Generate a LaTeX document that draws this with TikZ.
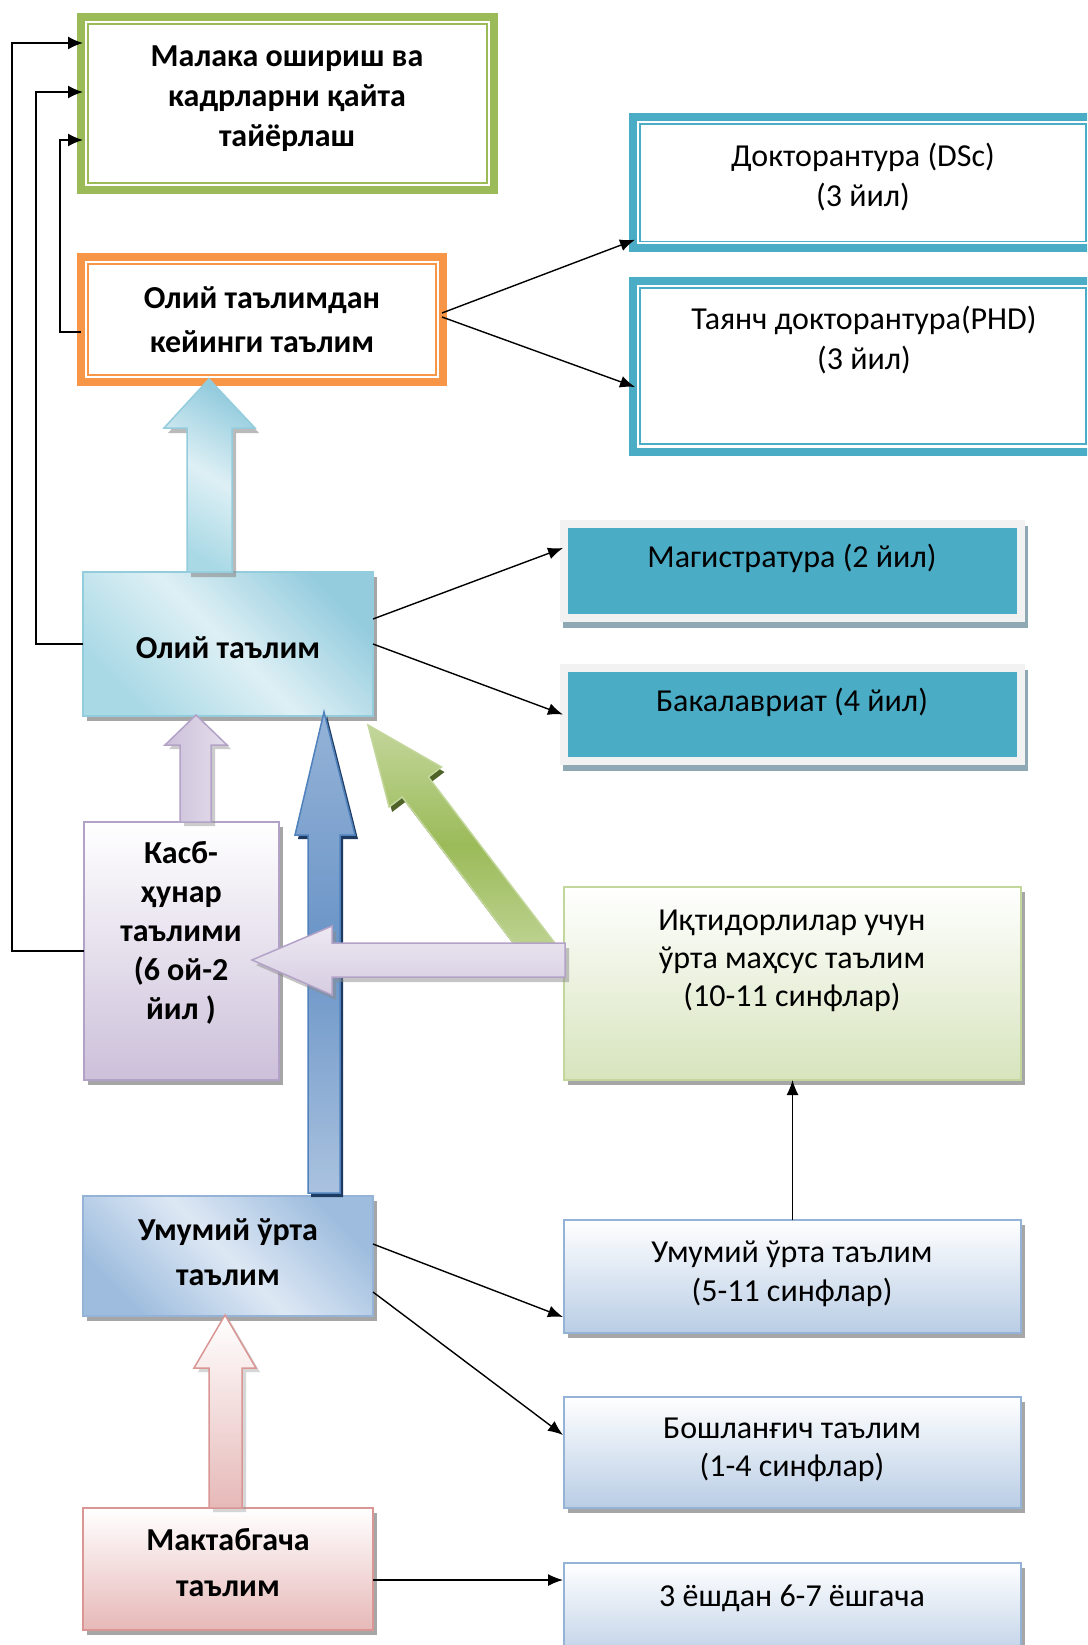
\documentclass[tikz,border=0pt]{standalone}
\usepackage{fontspec}
\setmainfont{Carlito}
\usetikzlibrary{arrows.meta,shadows,calc}
\definecolor{cgreen}{HTML}{9BBB59}
\definecolor{corange}{HTML}{F79646}
\definecolor{cteal}{HTML}{4BACC6}
\definecolor{cframe}{HTML}{F2F2F2}
\definecolor{ctealsh}{HTML}{8EA9B3}
\definecolor{cblueb}{HTML}{95B3D7}
\definecolor{cbluel}{HTML}{B9CDE5}
\definecolor{clilb}{HTML}{B3A2C7}
\definecolor{clil}{HTML}{CCC0DA}
\definecolor{clill}{HTML}{E5DFEC}
\definecolor{cpinkb}{HTML}{D99694}
\definecolor{cpink}{HTML}{E6B9B8}
\definecolor{cgreenb}{HTML}{C3D69B}
\definecolor{cgreenl}{HTML}{D7E4BD}
\definecolor{caqua}{HTML}{93CDDD}
\definecolor{caqual}{HTML}{DAEEF3}
\definecolor{cnavy}{HTML}{4F81BD}
\definecolor{cnavyd}{HTML}{1F3A60}
\definecolor{colive}{HTML}{4F6228}
\pgfdeclarehorizontalshading{aquash}{100bp}{rgb(0bp)=(.66,.85,.9); rgb(25bp)=(.66,.85,.9); rgb(50bp)=(.87,.94,.96); rgb(75bp)=(.58,.8,.87); rgb(100bp)=(.58,.8,.87)}
\pgfdeclarehorizontalshading{bluesh}{100bp}{rgb(0bp)=(.62,.74,.87); rgb(25bp)=(.62,.74,.87); rgb(50bp)=(.87,.91,.96); rgb(75bp)=(.62,.74,.87); rgb(100bp)=(.62,.74,.87)}
\begin{document}
\begin{tikzpicture}[x=1pt,y=-1pt,
  every node/.style={inner sep=0pt, outer sep=0pt},
  frame/.style={rectangle, draw=#1, line width=8pt},
  tealbox/.style={rectangle, fill=cteal, draw=cframe, line width=8pt,
     drop shadow={shadow xshift=3pt, shadow yshift=-6pt, fill=ctealsh, draw=ctealsh, line width=8pt, opacity=1}},
  gbox/.style={rectangle, line width=2pt,
     drop shadow={shadow xshift=4pt, shadow yshift=-5pt, fill=black, opacity=.35}},
  rtxt/.style={align=center, font=\fontsize{32}{40}\selectfont},
  btxt/.style={align=center, font=\fontsize{32}{40}\selectfont\bfseries},
  conn/.style={line width=1.4pt, -{Latex[length=15pt,width=12pt]}},
  lconn/.style={line width=1.7pt, -{Latex[length=15pt,width=13pt]}}
]
\path[use as bounding box] (0,0) rectangle (1087,1645);
\fill[white] (0,0) rectangle (1087,1645);
\begin{scope}
\clip (0,0) rectangle (1087,1645);

% ---------- framed boxes ----------
\node[frame=cgreen, minimum width=413pt, minimum height=173pt] (malaka) at (287.5,103.5) {};
\draw[cgreen, line width=1.5pt] ($(malaka.north west)+(7,7)$) rectangle ($(malaka.south east)+(-7,-7)$);
\node[btxt] (tmalaka) at (287,98.5) {Малака ошириш ва\\кадрларни қайта\\тайёрлаш};

\node[frame=corange, minimum width=362pt, minimum height=125pt] (keyin) at (262,319.5) {};
\draw[corange, line width=1.5pt] ($(keyin.north west)+(7,7)$) rectangle ($(keyin.south east)+(-7,-7)$);
\node[btxt, font=\fontsize{32}{44}\selectfont\bfseries] (tkeyin) at (262,320) {Олий таълимдан\\кейинги таълим};

\node[frame=cteal, minimum width=460pt, minimum height=131.5pt] (dsc) at (863,182.75) {};
\draw[cteal, line width=1.5pt] ($(dsc.north west)+(7,7)$) rectangle ($(dsc.south east)+(-7,-7)$);
\node[rtxt] (tdsc) at (863,177) {Докторантура (DSc)\\(3 йил)};

\node[frame=cteal, minimum width=460pt, minimum height=171pt] (phd) at (863,366.5) {};
\draw[cteal, line width=1.5pt] ($(phd.north west)+(7,7)$) rectangle ($(phd.south east)+(-7,-8)$);
\node[rtxt] (tphd) at (864,340) {Таянч докторантура(PHD)\\(3 йил)};

% ---------- teal boxes ----------
\node[tealbox, minimum width=457pt, minimum height=94pt] (mag) at (792.5,571) {};
\node[rtxt] (tmag) at (792,558) {Магистратура (2 йил)};
\node[tealbox, minimum width=457pt, minimum height=93pt] (bak) at (792.5,714.5) {};
\node[rtxt] (tbak) at (792,702) {Бакалавриат (4 йил)};

% ---------- gradient boxes ----------
\node[gbox, draw=caqua, shading=aquash, shading angle=45, minimum width=290pt, minimum height=144pt] (olij) at (228,644) {};
\node[btxt] (tolij) at (228,648) {Олий таълим};

\node[gbox, draw=clilb, top color=white, bottom color=clil, minimum width=195pt, minimum height=258pt] (kasb) at (181.5,951) {};
\node[btxt, font=\fontsize{32}{39}\selectfont\bfseries] (tkasb) at (181,933) {Касб-\\ҳунар\\таълими\\(6 ой-2\\йил )};

\node[gbox, draw=cgreenb, top color=white, bottom color=cgreenl, minimum width=457pt, minimum height=193pt] (iqt) at (792.5,983.5) {};
\node[rtxt, font=\fontsize{32}{38}\selectfont] (tiqt) at (792,961) {Иқтидорлилар учун\\ўрта маҳсус таълим\\(10-11 синфлар)};

\node[gbox, draw=cblueb, shading=bluesh, shading angle=45, minimum width=290pt, minimum height=120pt] (umuml) at (228,1256) {};
\node[btxt, font=\fontsize{32}{45}\selectfont\bfseries] (tumuml) at (228,1252) {Умумий ўрта\\таълим};

\node[gbox, draw=cpinkb, top color=white, bottom color=cpink, minimum width=290pt, minimum height=122pt] (makt) at (228,1569) {};
\node[btxt, font=\fontsize{32}{46}\selectfont\bfseries] (tmakt) at (228,1563) {Мактабгача\\таълим};

\node[gbox, draw=cblueb, top color=white, bottom color=cbluel, minimum width=457pt, minimum height=113pt] (u511) at (792.5,1276.5) {};
\node[rtxt, font=\fontsize{32}{39}\selectfont] (tu511) at (792,1273.5) {Умумий ўрта таълим\\(5-11 синфлар)};

\node[gbox, draw=cblueb, top color=white, bottom color=cbluel, minimum width=457pt, minimum height=111pt] (bosh) at (792.5,1452.5) {};
\node[rtxt, font=\fontsize{32}{38}\selectfont] (tbosh) at (792,1450) {Бошланғич таълим\\(1-4 синфлар)};

\node[gbox, draw=cblueb, top color=white, bottom color=cbluel, minimum width=457pt, minimum height=102pt] (yosh) at (792.5,1614) {};
\node[rtxt] (tyosh) at (792,1598) {3 ёшдан 6-7 ёшгача};

% ---------- block arrows ----------
% light blue: olij -> keyin
\def\parA{(187,572) -- (187,428) -- (164,428) -- (209,379) -- (255,428) -- (232,428) -- (232,572) -- cycle}
\fill[black!45, opacity=.6, shift={(4,5)}] \parA;
\path[draw=caqua, line width=1.5pt, shading=aquash, shading angle=60] \parA;

% lilac small: kasb -> olij
\def\parB{(180,822) -- (180,745) -- (165,745) -- (196,715) -- (227,745) -- (211,745) -- (211,822) -- cycle}
\fill[black!40, opacity=.5, shift={(4,4)}] \parB;
\path[draw=clilb, line width=1.5pt, left color=clil, right color=clill] \parB;

% blue big
\def\parC{(308,1193) -- (308,835) -- (295,835) -- (324,712) -- (355,835) -- (340,835) -- (340,1193) -- cycle}
\fill[cnavyd, shift={(3,4)}] \parC;
\path[draw=cnavy, line width=1.5pt, top color=cblueb, bottom color=cblueb!80!white, middle color=cnavy!85!white] \parC;

% green diagonal
\def\parD{(368,725) -- (441.5,767) -- (428.4,777) -- (556.8,945.6) -- (530.6,965.6) -- (402.2,797) -- (389.1,807) -- cycle}
\fill[colive, shift={(3,5)}] \parD;
\path[draw=cgreenb, line width=1.5pt, top color=cgreenb, bottom color=cgreenb, middle color=cgreen] \parD;

% purple horizontal: iqt -> kasb
\def\parE{(252,960) -- (332,926) -- (332,943) -- (565,943) -- (565,977) -- (332,977) -- (332,995) -- cycle}
\fill[black!45, opacity=.5, shift={(4,5)}] \parE;
\path[draw=clilb, line width=1.5pt, top color=clill!70!white, bottom color=clil!80!white] \parE;

% pink: makt -> umuml
\def\parF{(209,1508) -- (209,1368) -- (194,1368) -- (225,1315) -- (256,1368) -- (242,1368) -- (242,1508) -- cycle}
\fill[black!40, opacity=.4, shift={(4,4)}] \parF;
\path[draw=cpinkb, line width=1.5pt, top color=white, bottom color=cpink] \parF;

% ---------- connectors ----------
\draw[lconn] (kasb.west) -| ($(malaka.west)+(-69,-60.5)$) -- ($(malaka.west)+(2,-60.5)$);
\draw[lconn] (olij.west) -| ($(malaka.west)+(-45,-11.5)$) -- ($(malaka.west)+(2,-11.5)$);
\draw[lconn] ($(keyin.west)+(0,12.5)$) -| ($(malaka.west)+(-21,36.5)$) -- ($(malaka.west)+(2,36.5)$);

\draw[conn] ($(keyin.east)+(-1,-6.5)$) -- ($(dsc.west)+(2,57)$);
\draw[conn] ($(keyin.east)+(-1,-2.5)$) -- ($(phd.west)+(2,20.5)$);
\draw[conn] ($(olij.east)+(0,-25)$) -- ($(mag.west)+(-1,-23)$);
\draw[conn] (olij.east) -- ($(bak.west)+(-1,0)$);
\draw[conn] ($(umuml.east)+(0,-12)$) -- ($(u511.west)+(-1,40.5)$);
\draw[conn] ($(umuml.east)+(0,36)$) -- ($(bosh.west)+(-1,-17.5)$);
\draw[conn] ($(makt.east)+(0,11)$) -- ($(yosh.west)+(-1,-34)$);
\draw[conn] (u511.north) -- (iqt.south);
\end{scope}
\end{tikzpicture}
\end{document}
